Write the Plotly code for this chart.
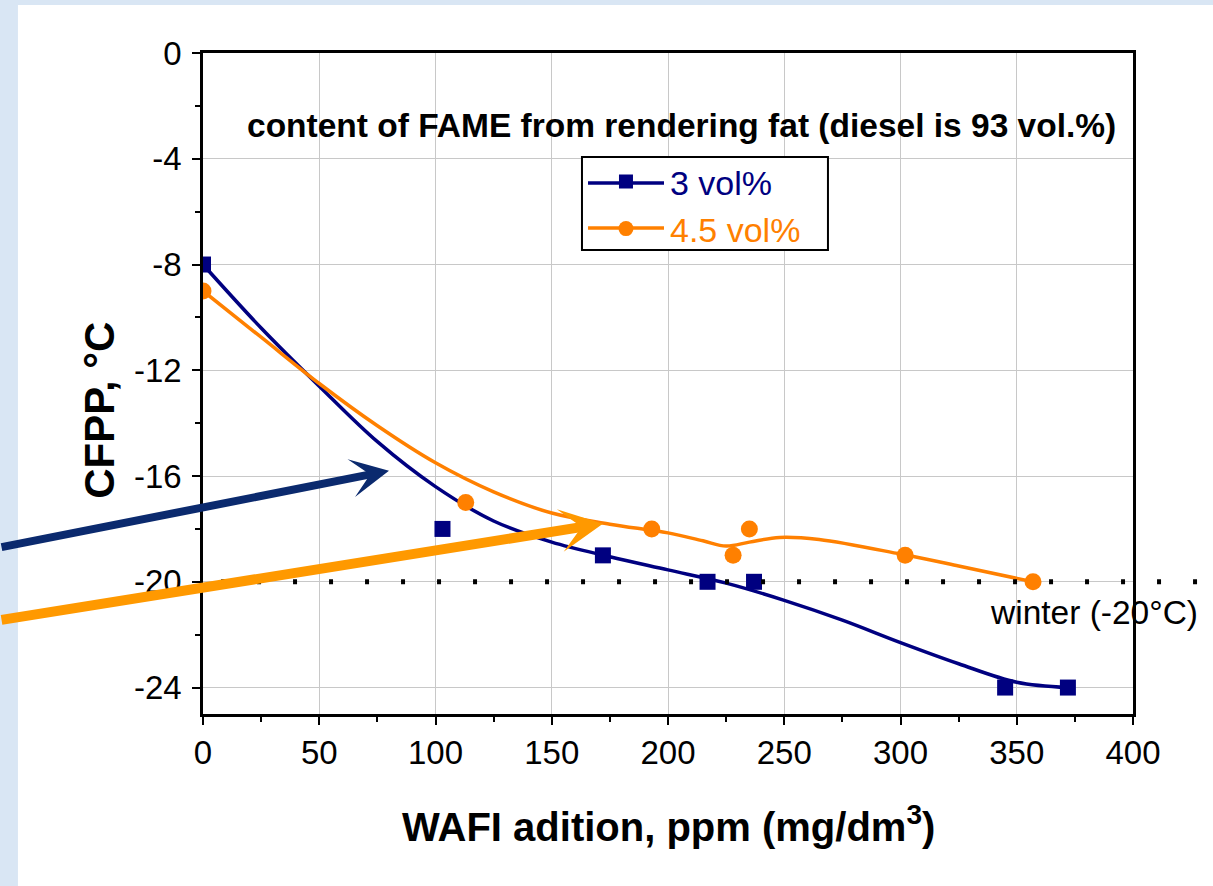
import plotly.graph_objects as go

# measured points
X_3 = [0, 103, 172, 217, 237, 345, 372]
Y_3 = [-8, -18, -19, -20, -20, -24, -24]
X_45 = [0, 113, 193, 228, 235, 302, 357]
Y_45 = [-9, -17, -18, -19, -18, -19, -20]

# smoothed curves as drawn in the original
FIT_X_3 = [0, 25, 50, 75, 100, 125, 150, 175, 200, 225, 250, 275, 300, 325, 350, 372]
FIT_Y_3 = [-8, -10.4, -12.6, -14.7, -16.4, -17.7, -18.5, -19.05, -19.55, -20.05, -20.7, -21.45, -22.3, -23.1, -23.8, -24.0]
FIT_X_45 = [0, 25, 50, 75, 100, 125, 150, 175, 200, 215, 225, 235, 248, 265, 300, 325, 357]
FIT_Y_45 = [-9, -10.75, -12.5, -14.1, -15.5, -16.6, -17.4, -17.82, -18.15, -18.45, -18.65, -18.5, -18.32, -18.4, -18.95, -19.4, -20.0]

WINTER_LIMIT = -20

Y_TICKS = [0, -4, -8, -12, -16, -20, -24]
Y_TICK_TEXT = ["0", "-4", "-8", "-12", "-16", "-20", "-24"]

NAVY = "#000080"
ORANGE = "#ff8000"
FONT = "Liberation Sans, Arial, sans-serif"

fig = go.Figure()

# curves
fig.add_trace(go.Scatter(x=FIT_X_3, y=FIT_Y_3, mode="lines", line=dict(color=NAVY, width=3.5, shape="spline"),
                         showlegend=False, hoverinfo="skip"))
fig.add_trace(go.Scatter(x=FIT_X_45, y=FIT_Y_45, mode="lines", line=dict(color=ORANGE, width=3.5, shape="spline"),
                         showlegend=False, hoverinfo="skip"))

# points
fig.add_trace(go.Scatter(x=X_3, y=Y_3, mode="markers", marker=dict(symbol="square", size=16, color=NAVY),
                         showlegend=False))
fig.add_trace(go.Scatter(x=X_45, y=Y_45, mode="markers", marker=dict(symbol="circle", size=17, color=ORANGE),
                         showlegend=False))

# legend entries (sample lines are drawn as shapes, longer than plotly's own)
fig.add_trace(go.Scatter(x=[None], y=[None], mode="lines+markers",
                         name="<span style='color:%s'>3 vol%%</span>" % NAVY,
                         line=dict(color="rgba(0,0,0,0)", width=3.5),
                         marker=dict(symbol="square", size=14, color=NAVY)))
fig.add_trace(go.Scatter(x=[None], y=[None], mode="lines+markers",
                         name="<span style='color:%s'>4.5 vol%%</span>" % ORANGE,
                         line=dict(color="rgba(0,0,0,0)", width=3.5),
                         marker=dict(symbol="circle", size=15, color=ORANGE)))

# white panel on the blue page
fig.add_shape(type="rect", xref="paper", yref="paper", x0=-0.199,
              x1=1.2, y0=-0.4, y1=1.0726, fillcolor="white", line=dict(width=0), layer="below")

# legend box and sample lines
fig.add_shape(type="rect", xref="paper", yref="paper", x0=0.4075, x1=0.672, y0=0.702, y1=0.8427,
              fillcolor="white", line=dict(color="black", width=2), layer="above")
fig.add_shape(type="line", xref="paper", yref="paper", x0=0.414, x1=0.4957, y0=0.8033, y1=0.8033,
              line=dict(color=NAVY, width=3.5), layer="above")
fig.add_shape(type="line", xref="paper", yref="paper", x0=0.414, x1=0.4957, y0=0.7352, y1=0.7352,
              line=dict(color=ORANGE, width=3.5), layer="above")

# winter limit dotted line
fig.add_shape(type="line", xref="paper", yref="y", x0=0.0194, x1=1.069, y0=WINTER_LIMIT, y1=WINTER_LIMIT,
              line=dict(color="black", width=5, dash="4px,32px"))

# arrows
fig.add_annotation(x=80, y=-15.8, ax=-87.3, ay=-18.7, xref="x", yref="y", axref="x", ayref="y",
                   showarrow=True, arrowhead=3, arrowsize=0.8, arrowwidth=8, arrowcolor="#0b2a6e", text="")
fig.add_annotation(x=172, y=-17.8, ax=-87.3, ay=-21.45, xref="x", yref="y", axref="x", ayref="y",
                   showarrow=True, arrowhead=3, arrowsize=0.72, arrowwidth=10, arrowcolor="#ff9900", text="")

fig.add_annotation(text="<b>content of FAME from rendering fat (diesel is 93 vol.%)</b>", xref="paper", yref="paper",
                   x=0.515, y=0.89, xanchor="center", yanchor="middle", showarrow=False,
                   font=dict(size=33.5, color="black", family=FONT))
fig.add_annotation(text="winter (-20°C)", xref="paper", yref="paper", x=1.072, y=0.154, xanchor="right",
                   yanchor="middle", showarrow=False, font=dict(size=33.5, color="black", family=FONT))
fig.add_annotation(text="<b>CFPP, °C</b>", xref="paper", yref="paper", x=-0.111, y=0.46, textangle=-90,
                   xanchor="center", yanchor="middle", showarrow=False,
                   font=dict(size=42, color="black", family=FONT))
fig.add_annotation(text="<b>WAFI adition, ppm (mg/dm<sup>3</sup>)</b>", xref="paper", yref="paper",
                   x=0.5, y=-0.167, xanchor="center", yanchor="middle", showarrow=False,
                   font=dict(size=40, color="black", family=FONT))

fig.update_xaxes(range=[0, 400], dtick=50, tick0=0, ticks="outside", ticklen=8, tickwidth=2, tickcolor="black",
                 showline=True, linecolor="black", linewidth=2.5, mirror=True,
                 showgrid=True, gridcolor="#c8c8c8", gridwidth=1, zeroline=False,
                 minor=dict(dtick=25, ticks="outside", ticklen=5, tickcolor="black", tickwidth=2),
                 tickfont=dict(size=33, color="black", family=FONT), ticklabelstandoff=0)
fig.update_yaxes(range=[-25, 0], tickvals=Y_TICKS, ticktext=Y_TICK_TEXT, ticks="outside", ticklen=8, tickwidth=2,
                 tickcolor="black", showline=True, linecolor="black", linewidth=2.5, mirror=True,
                 showgrid=True, gridcolor="#c8c8c8", gridwidth=1, zeroline=False,
                 minor=dict(dtick=2, ticks="outside", ticklen=5, tickcolor="black", tickwidth=2),
                 tickfont=dict(size=33, color="black", family=FONT), ticklabelstandoff=4)

fig.update_layout(
    width=1213, height=886,
    margin=dict(l=203, r=80, t=53, b=172),
    paper_bgcolor="#d9e6f4",
    plot_bgcolor="white",
    font=dict(family=FONT, color="black"),
    legend=dict(x=0.4075, y=0.849, xanchor="left", yanchor="top", bgcolor="rgba(0,0,0,0)",
                borderwidth=0, font=dict(size=34, family=FONT), itemwidth=78, tracegroupgap=0),
)

fig.write_html("out.html", config={"displayModeBar": False},
               post_script="document.body.style.margin='0px';")
